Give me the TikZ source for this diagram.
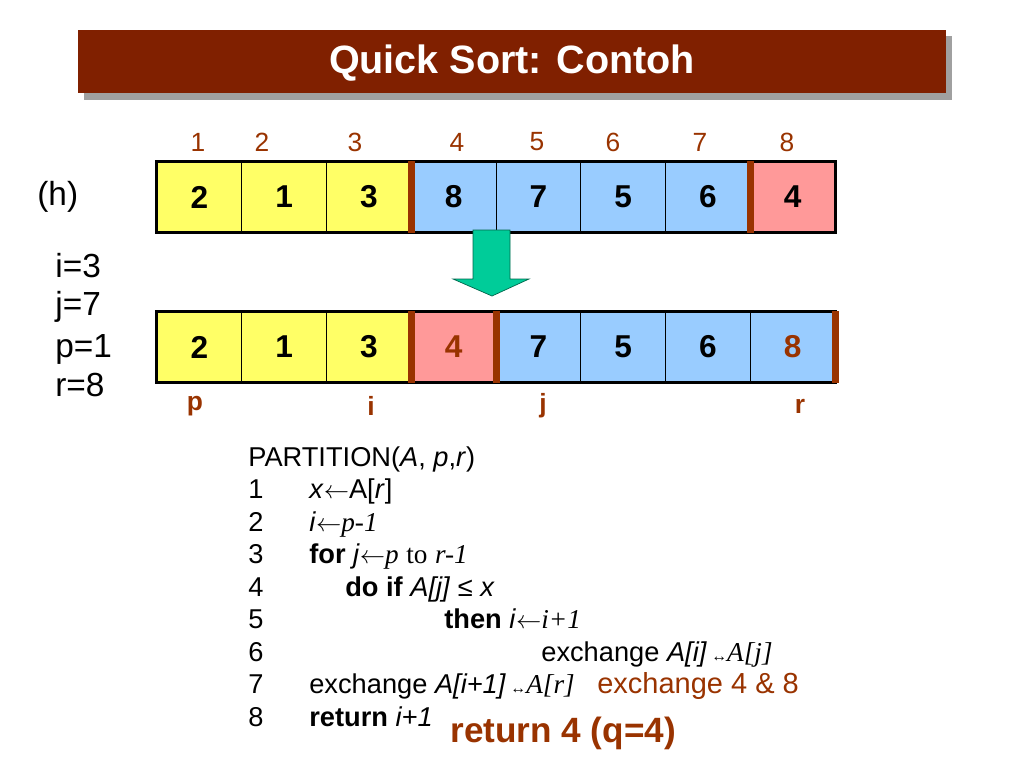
\documentclass[tikz,border=0pt]{standalone}
\usepackage{fontspec}
\setmainfont{Liberation Sans}
\newfontfamily\tms{Liberation Serif}
\definecolor{titlered}{RGB}{128,32,0}
\definecolor{shadowgray}{RGB}{160,160,160}
\definecolor{cy}{RGB}{255,255,102}
\definecolor{cb}{RGB}{153,204,255}
\definecolor{cr}{RGB}{255,153,153}
\definecolor{dred}{RGB}{153,51,0}
\definecolor{agreen}{RGB}{0,204,153}

\begin{document}
\begin{tikzpicture}[
x=0.02cm, y=-0.02cm,
cell/.style={rectangle,draw=black,thin,inner sep=0pt,minimum width=1.695cm,
  minimum height=1.42cm,font=\fontsize{18}{20}\selectfont\bfseries},
border/.style={draw=black,line width=1.7pt},
bar/.style={draw=dred,line width=4pt},
index/.style={text=dred,font=\fontsize{15}{17}\selectfont},
pointer/.style={text=dred,font=\fontsize{15}{17}\selectfont\bfseries},
side/.style={anchor=base west,inner sep=0pt,font=\fontsize{19}{22}\selectfont},
code/.style={anchor=base west,inner sep=0pt,font=\fontsize{15.5}{18}\selectfont},
note/.style={anchor=base west,inner sep=0pt,text=dred}
]
\useasboundingbox (0,0) rectangle (1024,768);

% title
\fill[shadowgray] (84,36) rectangle (952,100);
\fill[titlered] (78,30) rectangle (946,93);
\node[text=white,font=\fontsize{22.5}{26}\selectfont\bfseries] (title) at (512,63) {Quick Sort: Contoh};

% index numbers
\foreach \x/\n in {198/1,262/2,355/3,457/4,537/5,613/6,700/7,787/8}
  \node[index] (n\n) at (\x,142) {\n};

% array before
\foreach \v/\c [count=\k] in {2/cy,1/cy,3/cy,8/cb,7/cb,5/cb,6/cb,4/cr}
  \node[cell,fill=\c] (t\k) at ({157+84.75*(\k-0.5)},197) {\v};
\draw[border] (t1.north west) rectangle (t8.south east);
\draw[bar] (t3.north east) -- (t3.south east);
\draw[bar] (t7.north east) -- (t7.south east);

% array after
\foreach \v/\c/\t [count=\k] in {2/cy/black,1/cy/black,3/cy/black,4/cr/dred,7/cb/black,5/cb/black,6/cb/black,8/cb/dred}
  \node[cell,fill=\c,text=\t] (b\k) at ({157+84.75*(\k-0.5)},347) {\v};
\draw[border] (b1.north west) rectangle (b8.south east);
\draw[bar] (b3.north east) -- (b3.south east);
\draw[bar] (b4.north east) -- (b4.south east);
\draw[bar] (b8.north east) -- (b8.south east);

% arrow between
\filldraw[fill=agreen,draw=agreen!50!black,thin] (473,230) -- (510,230) -- (510,279)
  -- (529,279) -- (492,296) -- (453,279) -- (473,279) -- cycle;

% pointers
\foreach \x/\n in {195/p,371/i,543/j,800/r}
  \node[pointer] (ptr\n) at (\x,406) {\n};

% left labels
\node[side] (h) at (37,205) {(h)};
\node[side] (vi) at (55,277) {i=3};
\node[side] (vj) at (55,315) {j=7};
\node[side] (vp) at (55,357) {p=1};
\node[side] (vr) at (55,396) {r=8};

% partition code
\node[code] (c0) at (248,466) {PARTITION(\textit{A}, \textit{p},\textit{r})};
\foreach \k in {1,...,8}
  \node[code] (l\k) at (248,{466+32.5*\k}) {\k};
\node[code] (c1) at (309,498.5) {\textit{x}$\leftarrow$A[\textit{r}]};
\node[code] (c2) at (309,531) {\textit{i}$\leftarrow${\tms\itshape p-1}};
\node[code] (c3) at (309,563.5) {\textbf{for} \textit{j}$\leftarrow${\tms\itshape p} {\tms to} {\tms\itshape r-1}};
\node[code] (c4) at (345,596) {\textbf{do if} \textit{A[j]} ≤ \textit{x}};
\node[code] (c5) at (444,628.5) {\textbf{then} \textit{i}$\leftarrow${\tms\itshape i+1}};
\node[code] (c6) at (541,661) {exchange \textit{A[i]}\,{\small↔}{\tms\itshape A[j]}};
\node[code] (c7) at (309,693.5) {exchange \textit{A[i+1]}\,{\small↔}{\tms\itshape A[r]}};
\node[code] (c8) at (309,726) {\textbf{return} \textit{i+1}};

% notes
\node[note,font=\fontsize{16.5}{20}\selectfont] (swap) at (597,693.5) {exchange 4 \& 8};
\node[note,font=\fontsize{20}{24}\selectfont\bfseries] (ret) at (450,742) {return 4 (q=4)};
\end{tikzpicture}
\end{document}
